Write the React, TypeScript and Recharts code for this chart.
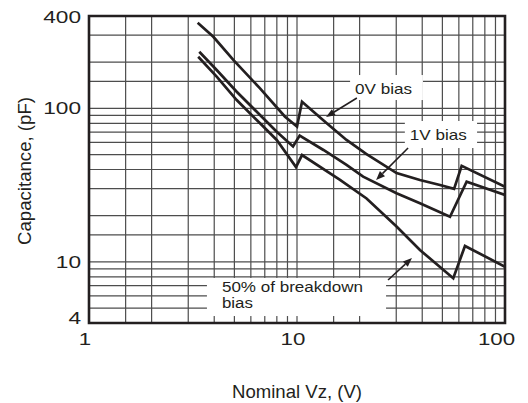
import React from 'react';
import {
  LineChart,
  Line,
  XAxis,
  YAxis,
  CartesianGrid,
  ReferenceArea,
  ReferenceLine,
  Label,
} from 'recharts';

// capacitance (pF) vs nominal zener voltage (V)
const zeroBiasVz = [3.33, 3.96, 4.94, 6.64, 8.76, 10.0, 10.57, 13.9, 17.3, 21.5, 30.1, 39.0, 48.7, 56.9, 61.9, 100];
const zeroBiasPf = [361, 293, 207, 135, 88.3, 76.2, 110.6, 80, 62.3, 50.5, 37.9, 34.2, 31.7, 29.9, 42.3, 30.9];

const oneVoltVz = [3.39, 4.11, 5.13, 6.64, 7.99, 9.57, 10.3, 13.4, 17.3, 20.8, 30.1, 39.0, 54.4, 65.4, 100];
const oneVoltPf = [234, 178, 128.5, 90.6, 70.5, 56.5, 66.6, 53.6, 42.8, 35.9, 28.0, 24.1, 19.7, 33.3, 27.3];

const halfBreakdownVz = [3.35, 4.11, 5.13, 6.64, 7.99, 9.89, 10.57, 16.1, 21.6, 30.1, 39.0, 56.4, 64.2, 100];
const halfBreakdownPf = [217, 161, 113.4, 80, 62.3, 41.5, 49.7, 34.2, 25.9, 17.0, 11.96, 7.82, 12.7, 9.31];

// grid lines and the ones that get a number
const vzGrid = [1, 1.5, 2, 3, 4, 5, 6, 7, 8, 9, 10, 15, 20, 30, 40, 50, 60, 70, 80, 90, 100];
const pfGrid = [4, 5, 6, 7, 8, 9, 10, 15, 20, 30, 40, 50, 60, 70, 80, 90, 100, 150, 200, 300, 400];
const vzLabels = [1, 10, 100];
const pfLabels = [4, 10, 100, 400];

const INK = '#231f20';
const FONT = '"Liberation Sans", Arial, Helvetica, sans-serif';

const zip = (xs: number[], ys: number[]) => xs.map((vz, i) => ({ vz, pf: ys[i] }));
const zeroBias = zip(zeroBiasVz, zeroBiasPf);
const oneVolt = zip(oneVoltVz, oneVoltPf);
const halfBreakdown = zip(halfBreakdownVz, halfBreakdownPf);

// callout boxes (data units): [vzLeft, vzRight, pfBottom, pfTop], arrow tail -> tip
const NOTES = [
  {
    lines: ['0V bias'],
    widths: [57],
    box: [18, 40.3, 113.4, 165],
    arrow: [19.4, 116.9, 13.8, 87.9],
    padX: 5,
    base: 19.4,
    fontSize: 15,
  },
  {
    lines: ['1V bias'],
    widths: [57],
    box: [33, 73.4, 55.2, 82.8],
    arrow: [34.2, 55.2, 24.0, 34.2],
    padX: 5,
    base: 19.4,
    fontSize: 15,
  },
  {
    lines: ['50% of breakdown', 'bias'],
    widths: [141, 31],
    box: [3.69, 26.8, 4.44, 7.86],
    arrow: [27.4, 7.62, 35.7, 10.6],
    padX: 15,
    base: 14.3,
    fontSize: 14,
  },
];

const XTick = (props: any) => {
  const { x, y, payload } = props;
  if (!vzLabels.includes(payload.value)) return <g />;
  const label = String(payload.value);
  const cx = Math.min(x - 4, 496.5);
  return (
    <text
      x={cx}
      y={y + 22}
      textAnchor="middle"
      fontSize={16.5}
      fontFamily={FONT}
      fill={INK}
      textLength={label.length * 12.4}
      lengthAdjust="spacingAndGlyphs"
    >
      {label}
    </text>
  );
};

const YTick = (props: any) => {
  const { x, y, payload } = props;
  if (!pfLabels.includes(payload.value)) return <g />;
  const label = String(payload.value);
  const cy = Math.min(Math.max(y, 17.5), 318.5);
  return (
    <text
      x={x - 8}
      y={cy + 5.9}
      textAnchor="end"
      fontSize={16.5}
      fontFamily={FONT}
      fill={INK}
      textLength={label.length * 12.6}
      lengthAdjust="spacingAndGlyphs"
    >
      {label}
    </text>
  );
};

const NoteBox = (props: any) => {
  const { x, y, width, height, note } = props;
  return (
    <g>
      <rect x={x} y={y} width={width} height={height} fill="#ffffff" stroke="none" />
      {note.lines.map((line: string, i: number) => (
        <text
          key={line}
          x={x + note.padX}
          y={y + note.base + i * 15.4}
          fontSize={note.fontSize}
          fontFamily={FONT}
          fill={INK}
          textLength={note.widths[i]}
          lengthAdjust="spacingAndGlyphs"
        >
          {line}
        </text>
      ))}
    </g>
  );
};

const Arrow = (props: any) => {
  const { x1, y1, x2, y2 } = props;
  const ang = Math.atan2(y2 - y1, x2 - x1);
  const len = 9;
  const half = 3.6;
  const bx = x2 - len * Math.cos(ang);
  const by = y2 - len * Math.sin(ang);
  const px = -Math.sin(ang) * half;
  const py = Math.cos(ang) * half;
  return (
    <g>
      <line x1={x1} y1={y1} x2={bx} y2={by} stroke={INK} strokeWidth={1.6} />
      <polygon points={`${x2},${y2} ${bx + px},${by + py} ${bx - px},${by - py}`} fill={INK} />
    </g>
  );
};

export default function App() {
  return (
    <div style={{ position: 'absolute', left: 0, top: 0, background: '#fff' }}>
      <LineChart width={528} height={403} margin={{ top: 16, right: 23, bottom: 0, left: 0 }}>
        <CartesianGrid stroke="#4d4d4d" strokeWidth={1.2} />
        <XAxis
          dataKey="vz"
          type="number"
          scale="log"
          domain={[1, 100]}
          ticks={vzGrid}
          interval={0}
          allowDataOverflow
          axisLine={false}
          tickLine={false}
          tickSize={0}
          tickMargin={0}
          height={80}
          tick={<XTick />}
        >
          <Label
            content={(p: any) => {
              const vb = p.viewBox;
              return (
                <text
                  x={vb.x + vb.width / 2}
                  y={vb.y + 74.5}
                  textAnchor="middle"
                  fontSize={18.5}
                  fontFamily={FONT}
                  fill={INK}
                  textLength={130}
                  lengthAdjust="spacingAndGlyphs"
                >
                  Nominal Vz, (V)
                </text>
              );
            }}
          />
        </XAxis>
        <YAxis
          type="number"
          scale="log"
          domain={[4, 400]}
          ticks={pfGrid}
          interval={0}
          allowDataOverflow
          axisLine={false}
          tickLine={false}
          tickSize={0}
          tickMargin={0}
          width={89}
          tick={<YTick />}
        >
          <Label
            content={(p: any) => {
              const vb = p.viewBox;
              const cx = vb.x + 31;
              const cy = vb.y + vb.height / 2 + 1.5;
              return (
                <text
                  x={cx}
                  y={cy}
                  transform={`rotate(-90 ${cx} ${cy})`}
                  textAnchor="middle"
                  fontSize={18}
                  fontFamily={FONT}
                  fill={INK}
                  textLength={148}
                  lengthAdjust="spacingAndGlyphs"
                >
                  Capacitance, (pF)
                </text>
              );
            }}
          />
        </YAxis>

        {NOTES.map((n) => (
          <ReferenceArea
            key={n.lines[0]}
            x1={n.box[0]}
            x2={n.box[1]}
            y1={n.box[2]}
            y2={n.box[3]}
            shape={(p: any) => <NoteBox {...p} note={n} />}
          />
        ))}

        <Line data={zeroBias} dataKey="pf" type="linear" stroke={INK} strokeWidth={2.7} dot={false} activeDot={false} isAnimationActive={false} />
        <Line data={oneVolt} dataKey="pf" type="linear" stroke={INK} strokeWidth={2.7} dot={false} activeDot={false} isAnimationActive={false} />
        <Line data={halfBreakdown} dataKey="pf" type="linear" stroke={INK} strokeWidth={2.7} dot={false} activeDot={false} isAnimationActive={false} />

        {NOTES.map((n) => (
          <ReferenceLine
            key={'a' + n.lines[0]}
            segment={[
              { x: n.arrow[0], y: n.arrow[1] },
              { x: n.arrow[2], y: n.arrow[3] },
            ]}
            shape={(p: any) => <Arrow {...p} />}
          />
        ))}

        <ReferenceArea x1={1} x2={100} y1={4} y2={400} fill="none" fillOpacity={0} stroke={INK} strokeWidth={2.6} />
      </LineChart>
    </div>
  );
}
